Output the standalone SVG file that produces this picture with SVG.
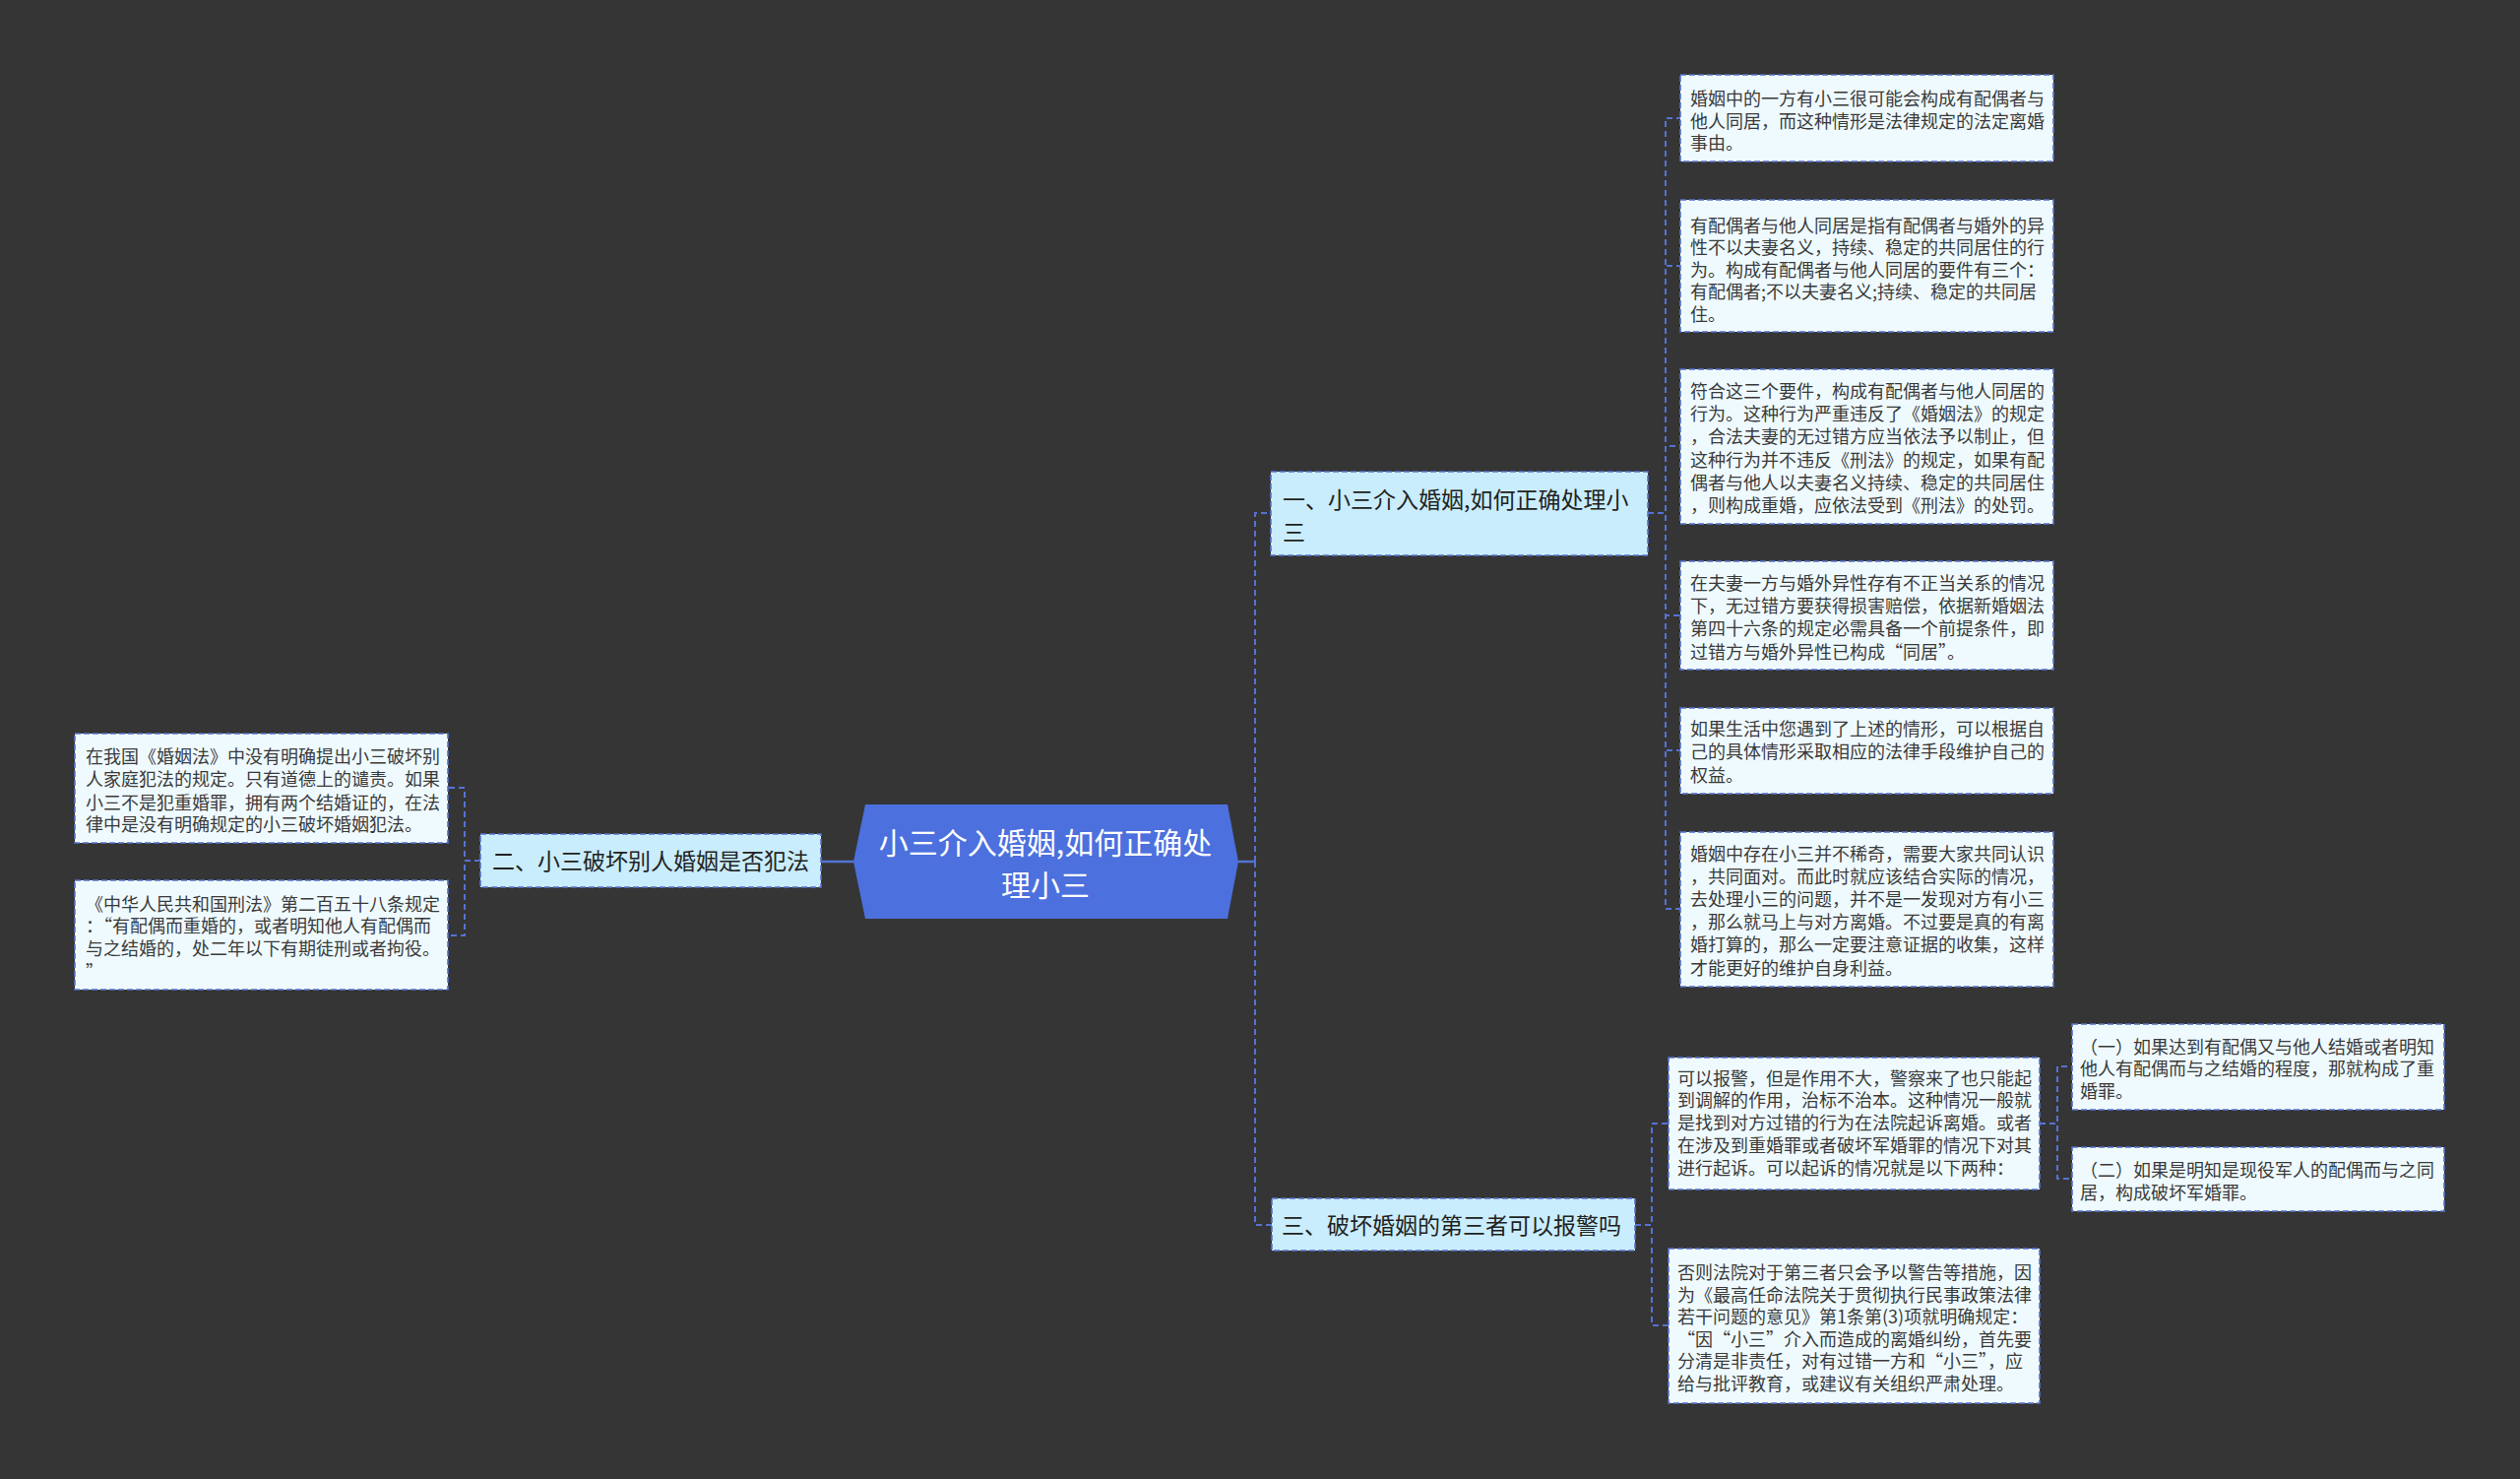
<svg xmlns="http://www.w3.org/2000/svg" width="2560" height="1502" viewBox="0 0 2560 1502">
<style>
text{font-family:"Noto Sans CJK SC","Noto Sans",sans-serif}
.leaf{fill:#effafe;stroke:#5572cc;stroke-width:1.6;stroke-dasharray:6 3}
.l1{fill:#c9edfc;stroke:#5572cc;stroke-width:1.6;stroke-dasharray:6 3}
.lt{font-size:18px;fill:#3a3a3a}
.t1{font-size:23px;fill:#222}
.ct{font-size:30px;fill:#ffffff;text-anchor:middle}
.cn{fill:none;stroke:#5572d4;stroke-width:2;stroke-dasharray:6 4}
.cs{fill:none;stroke:#5572d4;stroke-width:2.5}
</style>
<rect x="0" y="0" width="2560" height="1502" fill="#353535"/>

<g id="connectors">
<line class="cs" x1="834" y1="875" x2="867" y2="875"/>
<line class="cs" x1="1258" y1="875" x2="1275" y2="875"/>
<path class="cn" d="M488,874 H472 V800 H455"/>
<path class="cn" d="M488,874 H472 V950 H455"/>
<path class="cn" d="M1275,875 V521 H1291"/>
<path class="cn" d="M1275,875 V1244 H1292"/>
<path class="cn" d="M1674,521 H1692 V120 H1707"/>
<path class="cn" d="M1674,521 H1692 V270 H1707"/>
<path class="cn" d="M1674,521 H1692 V453 H1707"/>
<path class="cn" d="M1674,521 H1692 V625 H1707"/>
<path class="cn" d="M1674,521 H1692 V762 H1707"/>
<path class="cn" d="M1674,521 H1692 V923 H1707"/>
<path class="cn" d="M1661,1244 H1678 V1141 H1695"/>
<path class="cn" d="M1661,1244 H1678 V1346 H1695"/>
<path class="cn" d="M2072,1141 H2090 V1083 H2105"/>
<path class="cn" d="M2072,1141 H2090 V1197 H2105"/>
</g>

<g id="center">
<polygon points="867,875 879,817 1247,817 1258,875 1247,933 879,933" fill="#4c70de"/>
<text class="ct"><tspan x="1062" y="867">小三介入婚姻,如何正确处</tspan><tspan x="1062" y="910">理小三</tspan></text>
</g>

<g id="n1">
<rect class="l1" x="1291" y="479" width="383" height="85"/>
<text class="t1"><tspan x="1303" y="515.5">一、小三介入婚姻,如何正确处理小</tspan><tspan x="1303" y="548.5">三</tspan></text>
</g>
<g id="n2">
<rect class="l1" x="488" y="847" width="346" height="54"/>
<text class="t1"><tspan x="500" y="882.5">二、小三破坏别人婚姻是否犯法</tspan></text>
</g>
<g id="n3">
<rect class="l1" x="1292" y="1217" width="369" height="53"/>
<text class="t1"><tspan x="1302" y="1252.5">三、破坏婚姻的第三者可以报警吗</tspan></text>
</g>

<g id="r1">
<rect class="leaf" x="1707" y="76" width="379" height="88"/>
<text class="lt"><tspan x="1717" y="106.5">婚姻中的一方有小三很可能会构成有配偶者与</tspan><tspan x="1717" y="129.5">他人同居，而这种情形是法律规定的法定离婚</tspan><tspan x="1717" y="152">事由。</tspan></text>
</g>
<g id="r2">
<rect class="leaf" x="1707" y="203" width="379" height="134"/>
<text class="lt"><tspan x="1717" y="235.5">有配偶者与他人同居是指有配偶者与婚外的异</tspan><tspan x="1717" y="258">性不以夫妻名义，持续、稳定的共同居住的行</tspan><tspan x="1717" y="280.5">为。构成有配偶者与他人同居的要件有三个：</tspan><tspan x="1717" y="303">有配偶者;不以夫妻名义;持续、稳定的共同居</tspan><tspan x="1717" y="325.5">住。</tspan></text>
</g>
<g id="r3">
<rect class="leaf" x="1707" y="375" width="379" height="157"/>
<text class="lt"><tspan x="1717" y="403.5">符合这三个要件，构成有配偶者与他人同居的</tspan><tspan x="1717" y="426.5">行为。这种行为严重违反了《婚姻法》的规定</tspan><tspan x="1717" y="450">，合法夫妻的无过错方应当依法予以制止，但</tspan><tspan x="1717" y="473.5">这种行为并不违反《刑法》的规定，如果有配</tspan><tspan x="1717" y="496.5">偶者与他人以夫妻名义持续、稳定的共同居住</tspan><tspan x="1717" y="519.5">，则构成重婚，应依法受到《刑法》的处罚。</tspan></text>
</g>
<g id="r4">
<rect class="leaf" x="1707" y="570" width="379" height="110"/>
<text class="lt"><tspan x="1717" y="598.5">在夫妻一方与婚外异性存有不正当关系的情况</tspan><tspan x="1717" y="621.5">下，无过错方要获得损害赔偿，依据新婚姻法</tspan><tspan x="1717" y="645">第四十六条的规定必需具备一个前提条件，即</tspan><tspan x="1717" y="668.5">过错方与婚外异性已构成“同居”。</tspan></text>
</g>
<g id="r5">
<rect class="leaf" x="1707" y="719" width="379" height="87"/>
<text class="lt"><tspan x="1717" y="746.5">如果生活中您遇到了上述的情形，可以根据自</tspan><tspan x="1717" y="770">己的具体情形采取相应的法律手段维护自己的</tspan><tspan x="1717" y="793.5">权益。</tspan></text>
</g>
<g id="r6">
<rect class="leaf" x="1707" y="845" width="379" height="157"/>
<text class="lt"><tspan x="1717" y="873.5">婚姻中存在小三并不稀奇，需要大家共同认识</tspan><tspan x="1717" y="896.5">，共同面对。而此时就应该结合实际的情况，</tspan><tspan x="1717" y="919.5">去处理小三的问题，并不是一发现对方有小三</tspan><tspan x="1717" y="942.5">，那么就马上与对方离婚。不过要是真的有离</tspan><tspan x="1717" y="966">婚打算的，那么一定要注意证据的收集，这样</tspan><tspan x="1717" y="989.5">才能更好的维护自身利益。</tspan></text>
</g>

<g id="l1">
<rect class="leaf" x="76" y="745" width="379" height="111"/>
<text class="lt"><tspan x="87" y="774.5">在我国《婚姻法》中没有明确提出小三破坏别</tspan><tspan x="87" y="798">人家庭犯法的规定。只有道德上的谴责。如果</tspan><tspan x="87" y="821.5">小三不是犯重婚罪，拥有两个结婚证的，在法</tspan><tspan x="87" y="844">律中是没有明确规定的小三破坏婚姻犯法。</tspan></text>
</g>
<g id="l2">
<rect class="leaf" x="76" y="894" width="379" height="111"/>
<text class="lt"><tspan x="87" y="924.5">《中华人民共和国刑法》第二百五十八条规定</tspan><tspan x="87" y="947">：“有配偶而重婚的，或者明知他人有配偶而</tspan><tspan x="87" y="970">与之结婚的，处二年以下有期徒刑或者拘役。</tspan><tspan x="87" y="993.5">”</tspan></text>
</g>

<g id="t1">
<rect class="leaf" x="1695" y="1074" width="377" height="134"/>
<text class="lt"><tspan x="1704" y="1101.5">可以报警，但是作用不大，警察来了也只能起</tspan><tspan x="1704" y="1124">到调解的作用，治标不治本。这种情况一般就</tspan><tspan x="1704" y="1146.5">是找到对方过错的行为在法院起诉离婚。或者</tspan><tspan x="1704" y="1169.5">在涉及到重婚罪或者破坏军婚罪的情况下对其</tspan><tspan x="1704" y="1193">进行起诉。可以起诉的情况就是以下两种：</tspan></text>
</g>
<g id="t2">
<rect class="leaf" x="1695" y="1268" width="377" height="157"/>
<text class="lt"><tspan x="1704" y="1299">否则法院对于第三者只会予以警告等措施，因</tspan><tspan x="1704" y="1321.5">为《最高任命法院关于贯彻执行民事政策法律</tspan><tspan x="1704" y="1344">若干问题的意见》第1条第(3)项就明确规定：</tspan><tspan x="1704" y="1366.5">“因“小三”介入而造成的离婚纠纷，首先要</tspan><tspan x="1704" y="1389">分清是非责任，对有过错一方和“小三”，应</tspan><tspan x="1704" y="1411.5">给与批评教育，或建议有关组织严肃处理。</tspan></text>
</g>

<g id="tt1">
<rect class="leaf" x="2105" y="1040" width="378" height="87"/>
<text class="lt"><tspan x="2113" y="1069.5">（一）如果达到有配偶又与他人结婚或者明知</tspan><tspan x="2113" y="1092">他人有配偶而与之结婚的程度，那就构成了重</tspan><tspan x="2113" y="1114.5">婚罪。</tspan></text>
</g>
<g id="tt2">
<rect class="leaf" x="2105" y="1165" width="378" height="65"/>
<text class="lt"><tspan x="2113" y="1194.5">（二）如果是明知是现役军人的配偶而与之同</tspan><tspan x="2113" y="1218">居，构成破坏军婚罪。</tspan></text>
</g>
</svg>
